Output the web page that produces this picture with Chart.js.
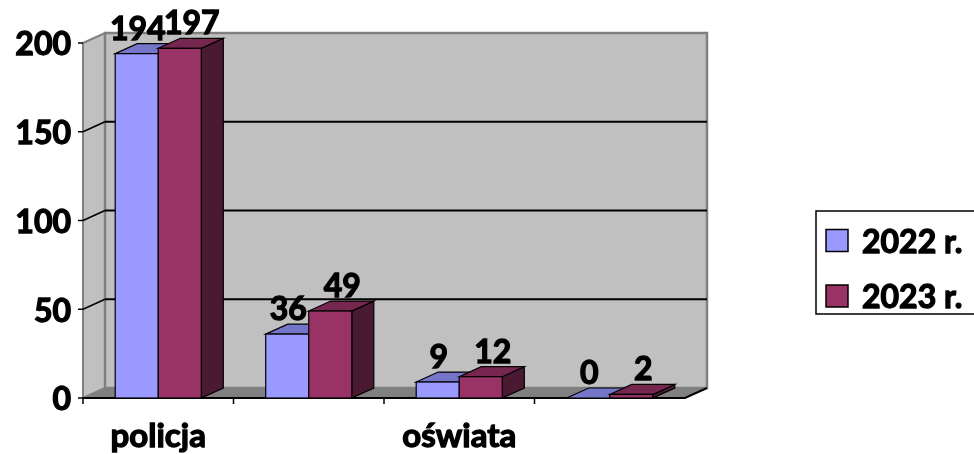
<!DOCTYPE html>
<html><head><meta charset="utf-8">
<script src="https://cdn.jsdelivr.net/npm/chart.js@4"></script>
<style>html,body{margin:0;padding:0;background:#fff;overflow:hidden}#wrap{width:974px;height:454px;position:relative}</style>
</head><body><div id="wrap"><canvas id="c"></canvas></div>
<script>
// ---- data ----
const categories = ['policja', 'pomoc społeczna', 'oświata', 'ochrona zdrowia'];
const shownCategoryIdx = [0, 2];
const values2022 = [194, 36, 9, 0];
const values2023 = [197, 49, 12, 2];
const seriesLabels = ['2022 r.', '2023 r.'];
const yTicks = [0, 50, 100, 150, 200];

// ---- style ----
const FONT = 'bold 32px Lato, "Open Sans", sans-serif';
const FONT_X = 'bold 33px Lato, "Open Sans", sans-serif';
const DX = 22, DY = -10;
const faces = [
  { front: '#9999ff', top: '#7575c9', side: '#4d4d80' },
  { front: '#993366', top: '#772650', side: '#4a1a33' }
];
const labelShift = [1, 12];

function heavyText(ctx, s, x, y) {
  ctx.fillText(s, x, y);
  ctx.strokeText(s, x, y);
}

const excel3d = {
  id: 'excel3d',
  beforeDatasetsDraw(chart) {
    const ctx = chart.ctx;
    const { left, right, top, bottom } = chart.chartArea;
    const ys = chart.scales.y, xs = chart.scales.x;
    ctx.save();
    ctx.lineJoin = 'miter';
    // left wall
    ctx.beginPath();
    ctx.moveTo(left, top); ctx.lineTo(left + DX, top + DY);
    ctx.lineTo(left + DX, bottom + DY); ctx.lineTo(left, bottom); ctx.closePath();
    ctx.fillStyle = '#c0c0c0'; ctx.fill();
    ctx.strokeStyle = '#808080'; ctx.lineWidth = 2; ctx.stroke();
    // back wall
    ctx.fillStyle = '#c0c0c0';
    ctx.fillRect(left + DX, top + DY, right - left, bottom - top);
    ctx.strokeStyle = '#808080'; ctx.lineWidth = 2.5;
    ctx.strokeRect(left + DX, top + DY, right - left, bottom - top);
    // floor
    ctx.beginPath();
    ctx.moveTo(left, bottom); ctx.lineTo(left + DX, bottom + DY);
    ctx.lineTo(right + DX, bottom + DY); ctx.lineTo(right, bottom); ctx.closePath();
    ctx.fillStyle = '#808080'; ctx.fill();
    // gridlines
    ctx.strokeStyle = '#000';
    yTicks.forEach(v => {
      if (v === 0 || v === ys.max) return;
      const yf = ys.getPixelForValue(v);
      ctx.lineWidth = 2;
      ctx.beginPath(); ctx.moveTo(left + DX, yf + DY); ctx.lineTo(right + DX, yf + DY); ctx.stroke();
      ctx.lineWidth = 1.5;
      ctx.beginPath(); ctx.moveTo(left, yf); ctx.lineTo(left + DX, yf + DY); ctx.stroke();
    });
    // y tick marks
    ctx.lineWidth = 1.5;
    yTicks.forEach(v => {
      const yf = ys.getPixelForValue(v);
      ctx.beginPath(); ctx.moveTo(left - 5, yf); ctx.lineTo(left, yf); ctx.stroke();
    });
    // front floor edge + x ticks
    ctx.lineWidth = 2;
    ctx.beginPath(); ctx.moveTo(left, bottom); ctx.lineTo(right, bottom); ctx.lineTo(right + DX, bottom + DY); ctx.stroke();
    ctx.lineWidth = 1.5;
    const n = categories.length;
    const step = xs.getPixelForValue(1) - xs.getPixelForValue(0);
    for (let i = 0; i < n; i++) {
      const xb = xs.getPixelForValue(i) - step / 2;
      ctx.beginPath(); ctx.moveTo(xb, bottom); ctx.lineTo(xb, bottom + 6); ctx.stroke();
    }
    // bars
    const metas = chart.data.datasets.map((d, k) => chart.getDatasetMeta(k));
    ctx.lineWidth = 1.2; ctx.strokeStyle = '#000';
    for (let i = 0; i < n; i++) {
      metas.forEach((meta, k) => {
        const el = meta.data[i];
        const x0 = el.x - el.width / 2, x1 = el.x + el.width / 2, yt = el.y, yb = el.base;
        const f = faces[k];
        ctx.beginPath();
        ctx.moveTo(x1, yb); ctx.lineTo(x1 + DX, yb + DY); ctx.lineTo(x1 + DX, yt + DY); ctx.lineTo(x1, yt); ctx.closePath();
        ctx.fillStyle = f.side; ctx.fill(); ctx.stroke();
        ctx.beginPath();
        ctx.moveTo(x0, yt); ctx.lineTo(x0 + DX, yt + DY); ctx.lineTo(x1 + DX, yt + DY); ctx.lineTo(x1, yt); ctx.closePath();
        ctx.fillStyle = f.top; ctx.fill(); ctx.stroke();
        if (yb - yt > 0.5) {
          ctx.fillStyle = f.front; ctx.fillRect(x0, yt, x1 - x0, yb - yt);
          ctx.strokeRect(x0, yt, x1 - x0, yb - yt);
        }
      });
    }
    // value labels
    ctx.fillStyle = '#000'; ctx.strokeStyle = '#000'; ctx.lineWidth = 1.3;
    ctx.font = FONT; ctx.textAlign = 'center'; ctx.textBaseline = 'alphabetic';
    metas.forEach((meta, k) => {
      const vals = chart.data.datasets[k].data;
      meta.data.forEach((el, i) => {
        heavyText(ctx, String(vals[i]), el.x + labelShift[k], el.y + DY - 4);
      });
    });
    ctx.restore();
    return false;
  },
  afterDraw(chart) {
    const ctx = chart.ctx;
    const { left, bottom } = chart.chartArea;
    const ys = chart.scales.y, xs = chart.scales.x;
    ctx.save();
    ctx.fillStyle = '#000'; ctx.strokeStyle = '#000'; ctx.lineWidth = 1.3; ctx.font = FONT;
    ctx.textAlign = 'right'; ctx.textBaseline = 'middle';
    yTicks.forEach(v => heavyText(ctx, String(v), left - 12, ys.getPixelForValue(v) + 2));
    ctx.font = FONT_X;
    ctx.textAlign = 'center'; ctx.textBaseline = 'alphabetic';
    shownCategoryIdx.forEach(i => heavyText(ctx, categories[i], xs.getPixelForValue(i), bottom + 49));
    // legend
    ctx.font = FONT;
    ctx.lineWidth = 1.5;
    ctx.fillStyle = '#fff';
    ctx.fillRect(816, 211, 200, 103);
    ctx.strokeRect(816, 211, 200, 103);
    chart.data.datasets.forEach((ds, k) => {
      const cy = 240.5 + k * 55.5;
      ctx.fillStyle = ds.backgroundColor;
      ctx.fillRect(826, cy - 11, 22, 22);
      ctx.lineWidth = 1.5; ctx.strokeRect(826, cy - 11, 22, 22);
      ctx.fillStyle = '#000'; ctx.textAlign = 'left'; ctx.textBaseline = 'middle';
      ctx.lineWidth = 1.3;
      heavyText(ctx, ds.label, 862, cy + 2);
    });
    ctx.restore();
  }
};

new Chart(document.getElementById('c'), {
  type: 'bar',
  data: {
    labels: categories,
    datasets: [
      { label: seriesLabels[0], data: values2022, backgroundColor: faces[0].front },
      { label: seriesLabels[1], data: values2023, backgroundColor: faces[1].front }
    ]
  },
  options: {
    responsive: true, maintainAspectRatio: false, animation: false,
    layout: { padding: { left: 83, right: 289, top: 43, bottom: 56 } },
    datasets: { bar: { categoryPercentage: 0.572, barPercentage: 1 } },
    plugins: { legend: { display: false }, tooltip: { enabled: false } },
    scales: {
      x: { display: false },
      y: { display: false, min: 0, max: 200, ticks: { stepSize: 50 } }
    }
  },
  plugins: [excel3d]
});
</script>
</body></html>
